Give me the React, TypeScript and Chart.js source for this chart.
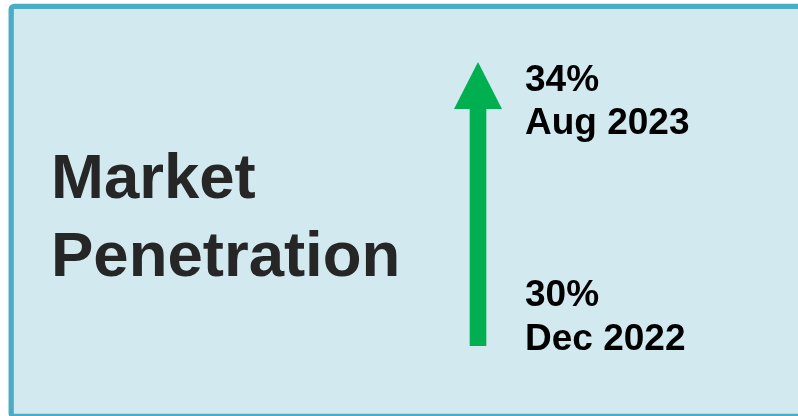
import React, { useEffect, useRef } from "react";
import { Chart, registerables } from "chart.js";

Chart.register(...registerables);

// ---- data ----
const categories = ["Market Penetration"];
const periods = ["Dec 2022", "Aug 2023"];
const penetration = [30, 34];
const valueLabels = ["30%", "34%"];
const titleLines = ["Market", "Penetration"];

const FONT = '"Liberation Sans", Arial, Helvetica, sans-serif';

const W = 798;
const H = 416;

const HEAD_H = 47;
const HEAD_HALF = 24;

const infographicPlugin = {
  id: "infographic",
  beforeDraw(chart: any) {
    const ctx = chart.ctx;
    ctx.save();
    ctx.fillStyle = "#ffffff";
    ctx.fillRect(0, 0, chart.width, chart.height);
    ctx.beginPath();
    if ((ctx as any).roundRect) {
      (ctx as any).roundRect(11.2, 6.3, chart.width + 30, chart.height - 6.3 + 0.3, 3);
    } else {
      ctx.rect(11.2, 6.3, chart.width + 30, chart.height - 6.3 + 0.3);
    }
    ctx.fillStyle = "#D3E9F0";
    ctx.fill();
    ctx.lineWidth = 5.3;
    ctx.strokeStyle = "#4BACC6";
    ctx.stroke();
    ctx.restore();

    // title
    ctx.save();
    ctx.fillStyle = "#262626";
    ctx.font = `bold 63.5px ${FONT}`;
    ctx.textBaseline = "alphabetic";
    ctx.textAlign = "left";
    ctx.fillText(titleLines[0], 51, 198);
    ctx.fillText(titleLines[1], 51, 276);
    ctx.restore();
  },
  beforeDatasetsDraw(chart: any) {
    const y = chart.scales.y;
    const tip = y.getPixelForValue(penetration[1]);
    const ctx = chart.ctx;
    ctx.save();
    ctx.beginPath();
    ctx.rect(0, tip + HEAD_H - 1, chart.width, chart.height);
    ctx.clip();
  },
  afterDatasetsDraw(chart: any) {
    const ctx = chart.ctx;
    ctx.restore();
    const y = chart.scales.y;
    const meta = chart.getDatasetMeta(0);
    const bar = meta.data[0];
    const cx = bar.x;
    const tip = y.getPixelForValue(penetration[1]);
    const base = y.getPixelForValue(penetration[0]);

    ctx.save();
    ctx.fillStyle = "#00B050";
    ctx.beginPath();
    ctx.moveTo(cx, tip);
    ctx.lineTo(cx + HEAD_HALF, tip + HEAD_H);
    ctx.lineTo(cx - HEAD_HALF, tip + HEAD_H);
    ctx.closePath();
    ctx.fill();

    // labels
    ctx.fillStyle = "#000000";
    ctx.font = `bold 37px ${FONT}`;
    ctx.textAlign = "left";
    ctx.textBaseline = "alphabetic";
    const lx = cx + 47;
    ctx.fillText(valueLabels[1], lx, tip + 29);
    ctx.fillText(periods[1], lx, tip + 72);
    ctx.fillText(valueLabels[0], lx, base - 40);
    ctx.fillText(periods[0], lx, base + 4);
    ctx.restore();
  },
};

export default function App() {
  const ref = useRef<HTMLCanvasElement | null>(null);

  useEffect(() => {
    document.body.style.margin = "0";
    const canvas = ref.current;
    if (!canvas) return;
    const chart = new Chart(canvas, {
      type: "bar",
      data: {
        labels: categories,
        datasets: [
          {
            label: "Market Penetration",
            data: [[penetration[0], penetration[1]]] as any,
            backgroundColor: "#00B050",
            borderWidth: 0,
            borderSkipped: false,
            barThickness: 16,
          },
        ],
      },
      options: {
        animation: false,
        responsive: false,
        devicePixelRatio: 1,
        layout: { padding: { left: 400, right: 242, top: 62, bottom: 70 } },
        plugins: {
          legend: { display: false },
          tooltip: { enabled: false },
          title: { display: false },
        },
        scales: {
          x: { display: false, offset: true },
          y: { display: false, min: 30, max: 34 },
        },
      },
      plugins: [infographicPlugin],
    });
    return () => chart.destroy();
  }, []);

  return (
    <div style={{ width: W, height: H }}>
      <canvas ref={ref} width={W} height={H} style={{ display: "block" }} />
    </div>
  );
}
